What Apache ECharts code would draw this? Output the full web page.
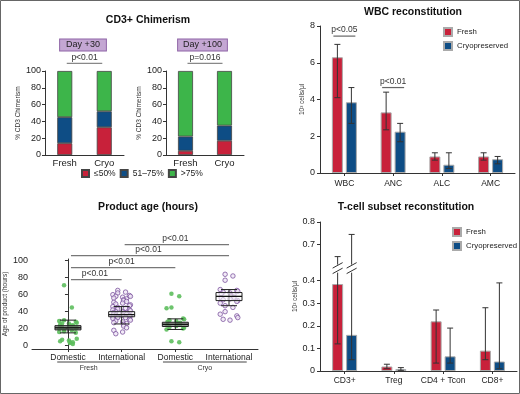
<!DOCTYPE html>
<html>
<head>
<meta charset="utf-8">
<script src="https://cdn.jsdelivr.net/npm/echarts@6/dist/echarts.min.js"></script>
<style>
  html, body { margin: 0; padding: 0; background: #fff; }
  #main { width: 520px; height: 394px; }
</style>
</head>
<body>
<div id="main"></div>
<script>
// ---- CD3+ chimerism (% of patients, stacked) ----
var chimCats = ['Fresh', 'Cryo'];
var chimNames = ['≤50%', '51–75%', '>75%'];
var day30Low = [14, 33];
var day30Mid = [31, 19];
var day30High = [55, 48];
var day100Low = [5, 17];
var day100Mid = [17, 18];
var day100High = [78, 65];
var chimP = ['p<0.01', 'p=0.016'];

// ---- WBC reconstitution (10^3 cells/ul) ----
var wbcCats = ['WBC', 'ANC', 'ALC', 'AMC'];
var wbcFresh = [6.3, 3.3, 0.9, 0.9];
var wbcFreshLo = [4.1, 2.35, 0.7, 0.7];
var wbcFreshHi = [7.0, 4.4, 1.1, 1.1];
var wbcCryo = [3.85, 2.25, 0.45, 0.75];
var wbcCryoLo = [2.7, 1.7, 0.25, 0.5];
var wbcCryoHi = [4.65, 2.7, 1.1, 0.9];
var wbcP = [[0, 7.45, 'p<0.05'], [1, 4.65, 'p<0.01']];
var wbcTicks = [0, 2, 4, 6, 8];

// ---- Product age (hours) ----
var ageCats = ['Domestic', 'International', 'Domestic', 'International'];
var ageGroups = [[-0.2, 0.97, 'Fresh'], [1.77, 3.33, 'Cryo']];
var ageDomFresh = [71, 45, 30, 29, 28, 27, 26, 26, 25, 24, 24, 23, 23, 22, 22, 21, 21, 20, 20, 19, 18, 17, 16, 15, 8, 7, 6, 5, 4, 4, 3, 2];
var ageIntlFresh = [65, 63, 62, 60, 59, 58, 58, 57, 56, 55, 54, 53, 52, 51, 50, 49, 48, 47, 46, 45, 44, 43, 42, 42, 41, 40, 40, 39, 39, 38, 38, 37, 37, 36, 36, 35, 35, 34, 34, 33, 33, 32, 31, 30, 29, 28, 27, 26, 25, 23, 21, 18, 16, 14];
var ageDomCryo = [61, 58, 45, 44, 32, 31, 30, 29, 28, 27, 26, 26, 25, 24, 23, 22, 21, 20, 19, 5, 4];
var ageIntlCryo = [84, 82, 77, 66, 65, 64, 63, 62, 61, 60, 59, 58, 57, 56, 55, 54, 53, 52, 50, 47, 45, 40, 37, 35, 33, 31, 30];
// whisker low, q1, median, q3, whisker high
var ageBoxes = [[15, 18.5, 21, 23.5, 30], [25.5, 34, 36.5, 40, 46], [19, 22.5, 25, 27.5, 31.5], [47, 53, 58, 62.5, 66]];
var ageP = [[0, 1, 77.6, 'p<0.01'], [0, 2, 91.8, 'p<0.01'], [0, 3, 106, 'p<0.01'], [1, 3, 119, 'p<0.01']];
var ageTicks = [0, 20, 40, 60, 80, 100];

// ---- T-cell subset reconstitution (10^3 cells/ul), broken axis 0.4 -> 0.7 ----
var tCats = ['CD3+', 'Treg', 'CD4 + Tcon', 'CD8+'];
var tFresh = [0.385, 0.02, 0.22, 0.09];
var tFreshLo = [0.12, 0.01, 0.035, 0.05];
var tFreshHi = [0.6, 0.03, 0.27, 0.28];
var tCryo = [0.16, 0.008, 0.065, 0.042];
var tCryoLo = [0.05, 0.003, 0.035, 0.01];
var tCryoHi = [0.745, 0.015, 0.19, 0.39];
var tTicks = [0, 0.1, 0.2, 0.3, 0.4, 0.7, 0.8];
var tBreakMark = 0.5;

var RED = '#c8213a', BLUE = '#0e4d85', GREEN = '#3db54a';
var FONT = 'Liberation Sans, Arial, sans-serif';
var AX = '#333';

// compress the 0.4-0.7 range like the original broken axis
function tDisp(v) {
  if (v <= 0.4) return v;
  if (v <= 0.7) return 0.4 + (v - 0.4) * 0.532;
  return v - 0.1404;
}
var tTickDisp = tTicks.map(tDisp);

// spread points sideways so they don't sit on one line
function jitter(vals, center) {
  return vals.map(function (v, i) {
    var j = ((i * 73 + i * i * 11 + 5) % 19) - 9;
    return [center + j / 55, v];
  });
}

function yAx(grid, opt) {
  var o = {
    gridIndex: grid, type: 'value',
    axisLine: { show: true, lineStyle: { color: AX, width: 1 } },
    axisTick: { show: true, length: 3, lineStyle: { color: AX } },
    axisLabel: { fontSize: 9, color: '#222', margin: 4, fontFamily: FONT },
    splitLine: { show: false },
    nameLocation: 'middle', nameRotate: 90,
    nameTextStyle: { fontSize: 6.5, color: '#333', fontFamily: FONT }
  };
  return Object.assign(o, opt);
}
function xCat(grid, data, opt) {
  var o = {
    gridIndex: grid, type: 'category', data: data,
    axisLine: { show: true, lineStyle: { color: AX, width: 1 } },
    axisTick: { show: true, alignWithLabel: true, length: 3, lineStyle: { color: AX } },
    axisLabel: { fontSize: 8.5, color: '#222', margin: 5, interval: 0, fontFamily: FONT },
    splitLine: { show: false }
  };
  return Object.assign(o, opt);
}

function chimSeries(grid, low, mid, high, stack) {
  var cols = [RED, BLUE, GREEN];
  return [low, mid, high].map(function (d, i) {
    return {
      name: chimNames[i], type: 'bar', stack: stack, xAxisIndex: grid, yAxisIndex: grid,
      data: d, barWidth: 15,
      itemStyle: { color: cols[i], borderColor: '#444', borderWidth: 0.8 }
    };
  });
}

function pairBracket(grid, pLabel) {
  return {
    type: 'custom', xAxisIndex: grid, yAxisIndex: grid, silent: true, z: 5,
    encode: { x: [0, 1], y: 2 },
    data: [[0, 1, 109]],
    renderItem: function (params, api) {
      var a = api.coord([api.value(0), api.value(2)]);
      var b = api.coord([api.value(1), api.value(2)]);
      return { type: 'group', children: [
        { type: 'line', shape: { x1: a[0] + 2, y1: a[1], x2: b[0] - 2, y2: b[1] }, style: { stroke: '#888', lineWidth: 1.2 } },
        { type: 'text', x: (a[0] + b[0]) / 2, y: a[1] - 1.5, style: { text: pLabel, align: 'center', verticalAlign: 'bottom', fontSize: 8.5, fill: '#333', fontFamily: FONT } }
      ] };
    }
  };
}

function errSeries(grid, cats, lo, hi, dx, breakAt) {
  return {
    type: 'custom', xAxisIndex: grid, yAxisIndex: grid, silent: true, z: 4,
    data: cats.map(function (c, i) { return [i, lo[i], hi[i]]; }),
    renderItem: function (params, api) {
      var i = api.value(0);
      var tr = grid === 4 ? tDisp : function (v) { return v; };
      var p1 = api.coord([i, tr(api.value(1))]);
      var p2 = api.coord([i, tr(api.value(2))]);
      var x = p1[0] + dx, st = { stroke: '#333', lineWidth: 1 };
      var kids = [
        { type: 'line', shape: { x1: x, y1: p1[1], x2: x, y2: p2[1] }, style: st },
        { type: 'line', shape: { x1: x - 3, y1: p1[1], x2: x + 3, y2: p1[1] }, style: st },
        { type: 'line', shape: { x1: x - 3, y1: p2[1], x2: x + 3, y2: p2[1] }, style: st }
      ];
      if (breakAt != null && api.value(2) > breakAt) {
        var yb = api.coord([i, tr(breakAt)])[1];
        kids.push({ type: 'rect', shape: { x: x - 2, y: yb - 4, width: 4, height: 8 }, style: { fill: '#fff' } });
        kids.push({ type: 'line', shape: { x1: x - 5, y1: yb - 0.5, x2: x + 5, y2: yb - 6 }, style: st });
        kids.push({ type: 'line', shape: { x1: x - 5, y1: yb + 5, x2: x + 5, y2: yb - 0.5 }, style: st });
      }
      return { type: 'group', children: kids };
    }
  };
}

var chart = echarts.init(document.getElementById('main'), null, { renderer: 'canvas' });

var legendText = { fontSize: 7.8, color: '#222', fontFamily: FONT };

var option = {
  animation: false,
  backgroundColor: '#fff',
  textStyle: { fontFamily: FONT },
  grid: [
    { left: 45, top: 71, width: 79, height: 84 },
    { left: 166, top: 71, width: 78, height: 84 },
    { left: 320, top: 26, width: 195, height: 147 },
    { left: 32, top: 259, width: 226, height: 90 },
    { left: 320, top: 222, width: 197, height: 149 }
  ],
  legend: [
    {
      data: chimNames, left: 81, top: 169, padding: 0, icon: 'rect', itemWidth: 7, itemHeight: 7, itemGap: 4,
      textStyle: { fontSize: 8.5, color: '#222', fontFamily: FONT }, selectedMode: false
    },
    {
      data: ['Fresh', 'Cryopreserved'], orient: 'vertical', left: 443, top: 27, padding: 0, icon: 'rect', itemWidth: 8, itemHeight: 8, itemGap: 4,
      textStyle: legendText, selectedMode: false
    },
    {
      data: ['Fresh', 'Cryopreserved'], orient: 'vertical', left: 452, top: 227, padding: 0, icon: 'rect', itemWidth: 8, itemHeight: 8, itemGap: 4,
      textStyle: legendText, selectedMode: false
    }
  ],
  xAxis: [
    xCat(0, chimCats, { axisTick: { show: false }, axisLabel: { fontSize: 9.5, color: '#222', margin: 3, fontFamily: FONT } }),
    xCat(1, chimCats, { axisTick: { show: false }, axisLabel: { fontSize: 9.5, color: '#222', margin: 3, fontFamily: FONT } }),
    xCat(2, wbcCats, { axisLabel: { fontSize: 8.5, color: '#222', margin: 6, interval: 0, fontFamily: FONT } }),
    {
      gridIndex: 3, type: 'value', min: -0.67, max: 3.54,
      axisLine: { show: true, onZero: false, lineStyle: { color: AX } },
      axisTick: { show: true, length: 3, customValues: [0, 1, 2, 3], lineStyle: { color: AX } },
      axisLabel: {
        fontSize: 8.5, color: '#222', margin: 4, fontFamily: FONT, customValues: [0, 1, 2, 3],
        formatter: function (v) { return ageCats[Math.round(v)]; }
      },
      splitLine: { show: false }
    },
    xCat(4, tCats, { axisLabel: { fontSize: 8.5, color: '#222', margin: 5, interval: 0, fontFamily: FONT } })
  ],
  yAxis: [
    yAx(0, { min: 0, max: 100, interval: 20, name: '% CD3 Chimerism', nameGap: 21 }),
    yAx(1, { min: 0, max: 100, interval: 20, name: '% CD3 Chimerism', nameGap: 21 }),
    yAx(2, {
      min: 0, max: 8, name: '10³ cells/μl', nameGap: 14,
      axisLabel: { fontSize: 9, color: '#222', margin: 5, fontFamily: FONT, customValues: wbcTicks },
      axisTick: { show: true, length: 3, customValues: wbcTicks, lineStyle: { color: AX } }
    }),
    yAx(3, {
      min: -4, max: 102, name: 'Age of product (hours)', nameGap: 19,
      axisLabel: { fontSize: 9, color: '#222', margin: 4, fontFamily: FONT, customValues: ageTicks },
      axisTick: { show: true, length: 3, customValues: ageTicks, lineStyle: { color: AX } }
    }),
    yAx(4, {
      min: 0, max: tDisp(0.8), name: '10³ cells/μl', nameGap: 17,
      axisLabel: {
        fontSize: 9, color: '#222', margin: 5, fontFamily: FONT, customValues: tTickDisp,
        formatter: function (v) {
          var best = 0;
          tTickDisp.forEach(function (d, i) { if (Math.abs(d - v) < Math.abs(tTickDisp[best] - v)) best = i; });
          return tTicks[best] === 0 ? '0' : tTicks[best].toFixed(1);
        }
      },
      axisTick: { show: true, length: 3, customValues: tTickDisp, lineStyle: { color: AX } }
    })
  ],
  graphic: [
    { type: 'rect', shape: { x: 0.5, y: 0.5, width: 519, height: 393 }, style: { fill: 'none', stroke: '#666', lineWidth: 1 }, silent: true },
    { type: 'text', x: 148, y: 20, style: { text: 'CD3+ Chimerism', align: 'center', verticalAlign: 'middle', fontSize: 10.5, fontWeight: 'bold', fill: '#111', fontFamily: FONT } },
    { type: 'text', x: 413, y: 12, style: { text: 'WBC reconstitution', align: 'center', verticalAlign: 'middle', fontSize: 10.5, fontWeight: 'bold', fill: '#111', fontFamily: FONT } },
    { type: 'text', x: 148, y: 207, style: { text: 'Product age (hours)', align: 'center', verticalAlign: 'middle', fontSize: 10.5, fontWeight: 'bold', fill: '#111', fontFamily: FONT } },
    { type: 'text', x: 406, y: 207, style: { text: 'T-cell subset reconstitution', align: 'center', verticalAlign: 'middle', fontSize: 10.5, fontWeight: 'bold', fill: '#111', fontFamily: FONT } },
    { type: 'text', x: 83, y: 45, style: { text: 'Day +30', align: 'center', verticalAlign: 'middle', fontSize: 9, fill: '#222', fontFamily: FONT, backgroundColor: '#c4a7d3', borderColor: '#8e63a6', borderWidth: 1, padding: [1, 6, 1, 6] } },
    { type: 'text', x: 202.5, y: 45, style: { text: 'Day +100', align: 'center', verticalAlign: 'middle', fontSize: 9, fill: '#222', fontFamily: FONT, backgroundColor: '#c4a7d3', borderColor: '#8e63a6', borderWidth: 1, padding: [1, 5, 1, 5] } }
  ],
  series: [].concat(
    chimSeries(0, day30Low, day30Mid, day30High, 'd30'),
    chimSeries(1, day100Low, day100Mid, day100High, 'd100'),
    [pairBracket(0, chimP[0]), pairBracket(1, chimP[1])],
    [
      {
        name: 'Fresh', type: 'bar', xAxisIndex: 2, yAxisIndex: 2, data: wbcFresh, barWidth: 11, barGap: '27%',
        itemStyle: { color: RED, borderColor: '#aaa', borderWidth: 1 }
      },
      {
        name: 'Cryopreserved', type: 'bar', xAxisIndex: 2, yAxisIndex: 2, data: wbcCryo, barWidth: 11, barGap: '27%',
        itemStyle: { color: BLUE, borderColor: '#aaa', borderWidth: 1 }
      },
      errSeries(2, wbcCats, wbcFreshLo, wbcFreshHi, -7, null),
      errSeries(2, wbcCats, wbcCryoLo, wbcCryoHi, 7, null),
      {
        type: 'custom', xAxisIndex: 2, yAxisIndex: 2, silent: true, z: 5,
        data: wbcP.map(function (d) { return [d[0], d[1]]; }),
        renderItem: function (params, api) {
          var c = api.coord([api.value(0), api.value(1)]);
          return { type: 'group', children: [
            { type: 'line', shape: { x1: c[0] - 11, y1: c[1], x2: c[0] + 11, y2: c[1] }, style: { stroke: '#666', lineWidth: 1.2 } },
            { type: 'text', x: c[0], y: c[1] - 1.5, style: { text: wbcP[params.dataIndex][2], align: 'center', verticalAlign: 'bottom', fontSize: 8.5, fill: '#333', fontFamily: FONT } }
          ] };
        }
      }
    ],
    [
      {
        type: 'scatter', xAxisIndex: 3, yAxisIndex: 3, symbolSize: 4.5, z: 2,
        data: jitter(ageDomFresh, 0).concat(jitter(ageDomCryo, 2)),
        itemStyle: { color: '#5dbe5d', opacity: 0.9 }
      },
      {
        type: 'scatter', xAxisIndex: 3, yAxisIndex: 3, symbolSize: 4.5, z: 2,
        data: jitter(ageIntlFresh, 1).concat(jitter(ageIntlCryo, 3)),
        itemStyle: { color: '#efe6f5', borderColor: '#7d559f', borderWidth: 1 }
      },
      {
        type: 'custom', xAxisIndex: 3, yAxisIndex: 3, silent: true, z: 3,
        data: ageBoxes.map(function (b, i) { return [i].concat(b); }),
        renderItem: function (params, api) {
          var i = api.value(0);
          var c = function (v) { return api.coord([i, v]); };
          var lo = c(api.value(1)), q1 = c(api.value(2)), md = c(api.value(3)), q3 = c(api.value(4)), hi = c(api.value(5));
          var x = lo[0], bw = 13, cw = 8;
          var st = { stroke: '#222', lineWidth: 1 };
          var fill = (i % 2 === 0) ? 'rgba(110,110,110,0.7)' : 'rgba(255,255,255,0.55)';
          return { type: 'group', children: [
            { type: 'line', shape: { x1: x, y1: lo[1], x2: x, y2: hi[1] }, style: st },
            { type: 'line', shape: { x1: x - cw, y1: lo[1], x2: x + cw, y2: lo[1] }, style: st },
            { type: 'line', shape: { x1: x - cw, y1: hi[1], x2: x + cw, y2: hi[1] }, style: st },
            { type: 'rect', shape: { x: x - bw, y: q3[1], width: bw * 2, height: q1[1] - q3[1] }, style: { fill: fill, stroke: '#222', lineWidth: 1 } },
            { type: 'line', shape: { x1: x - bw, y1: md[1], x2: x + bw, y2: md[1] }, style: { stroke: '#111', lineWidth: 1.3 } }
          ] };
        }
      },
      {
        type: 'custom', xAxisIndex: 3, yAxisIndex: 3, silent: true, z: 5,
        encode: { x: [0, 1], y: 2 },
        data: ageP.map(function (d) { return [d[0], d[1], d[2]]; }),
        renderItem: function (params, api) {
          var a = api.coord([api.value(0), api.value(2)]);
          var b = api.coord([api.value(1), api.value(2)]);
          return { type: 'group', children: [
            { type: 'line', shape: { x1: a[0] + 3, y1: a[1], x2: b[0], y2: b[1] }, style: { stroke: '#777', lineWidth: 1.2 } },
            { type: 'text', x: (a[0] + b[0]) / 2, y: a[1] - 1.5, style: { text: ageP[params.dataIndex][3], align: 'center', verticalAlign: 'bottom', fontSize: 8.5, fill: '#333', fontFamily: FONT } }
          ] };
        }
      },
      {
        type: 'custom', xAxisIndex: 3, yAxisIndex: 3, silent: true, z: 5,
        encode: { x: [0, 1] },
        data: ageGroups.map(function (g) { return [g[0], g[1]]; }),
        renderItem: function (params, api) {
          var a = api.coord([api.value(0), -4]);
          var b = api.coord([api.value(1), -4]);
          var y = a[1] + 13;
          return { type: 'group', children: [
            { type: 'line', shape: { x1: a[0], y1: y, x2: b[0], y2: y }, style: { stroke: '#444', lineWidth: 1 } },
            { type: 'text', x: (a[0] + b[0]) / 2, y: y + 6, style: { text: ageGroups[params.dataIndex][2], align: 'center', verticalAlign: 'middle', fontSize: 7, fill: '#333', fontFamily: FONT } }
          ] };
        }
      }
    ],
    [
      {
        name: 'Fresh', type: 'bar', xAxisIndex: 4, yAxisIndex: 4, data: tFresh.map(tDisp), barWidth: 11, barGap: '27%',
        itemStyle: { color: RED, borderColor: '#aaa', borderWidth: 1 }
      },
      {
        name: 'Cryopreserved', type: 'bar', xAxisIndex: 4, yAxisIndex: 4, data: tCryo.map(tDisp), barWidth: 11, barGap: '27%',
        itemStyle: { color: BLUE, borderColor: '#aaa', borderWidth: 1 }
      },
      errSeries(4, tCats, tFreshLo, tFreshHi, -7, tBreakMark),
      errSeries(4, tCats, tCryoLo, tCryoHi, 7, tBreakMark)
    ]
  )
};

chart.setOption(option);
</script>
</body>
</html>
